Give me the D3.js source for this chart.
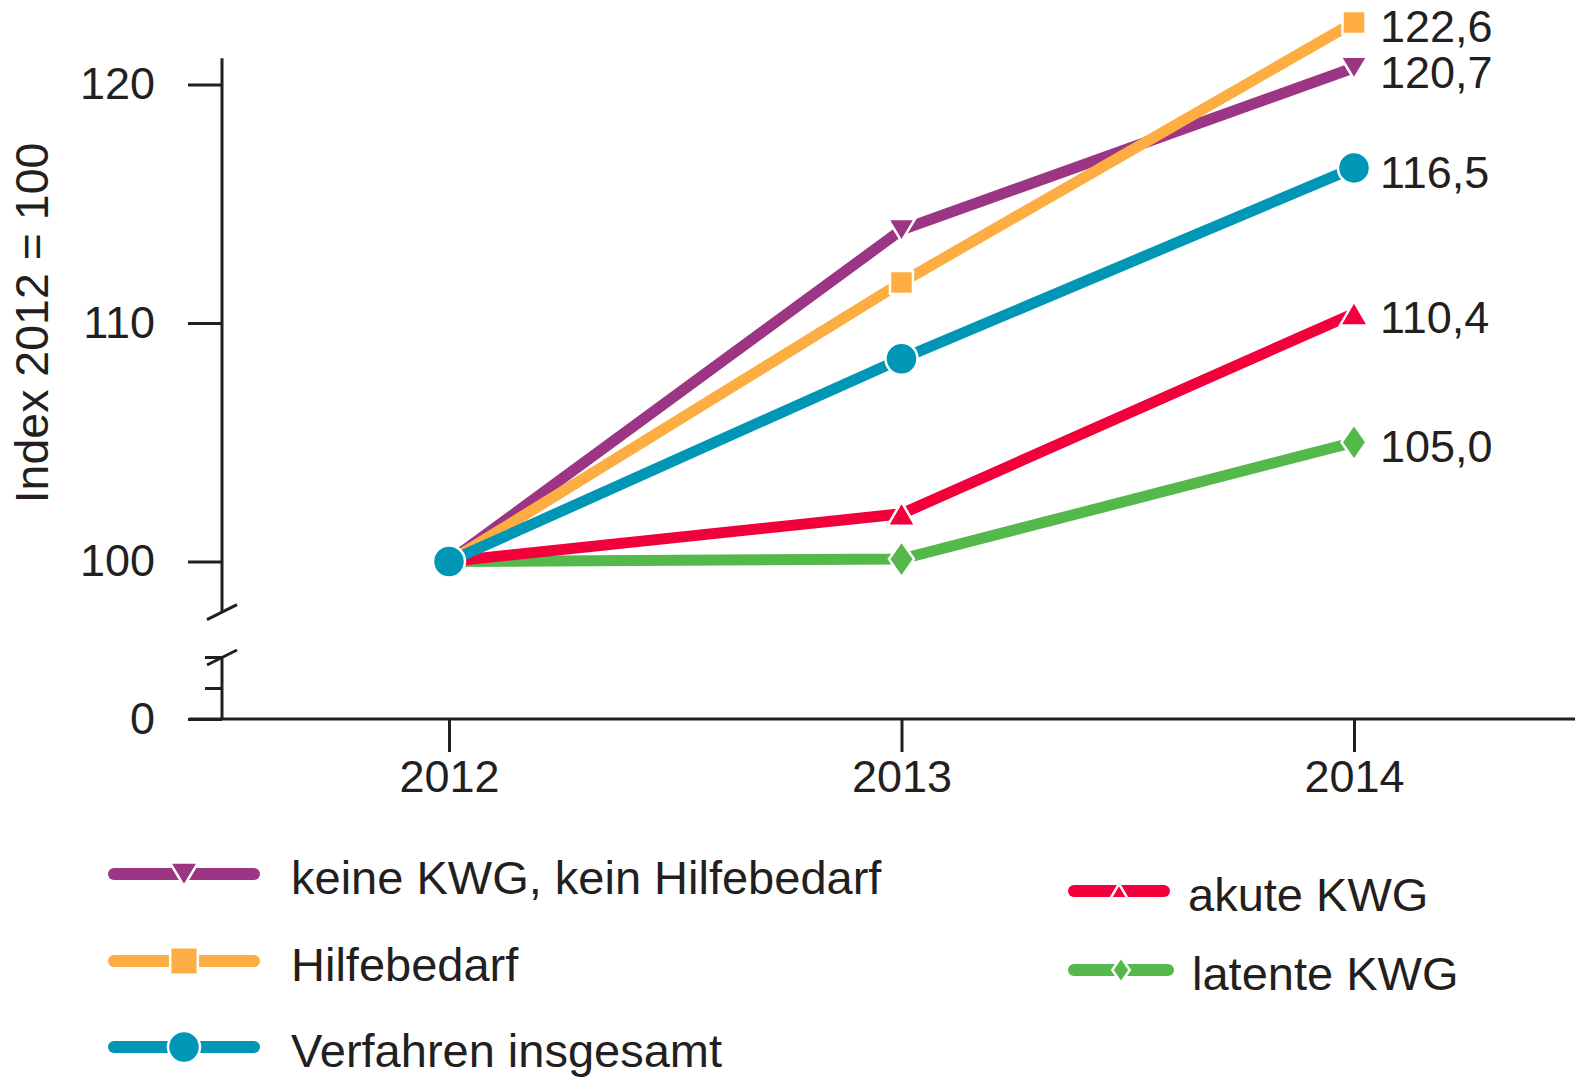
<!DOCTYPE html>
<html>
<head>
<meta charset="utf-8">
<script src="https://cdn.jsdelivr.net/npm/d3@7"></script>
<style>
  body { margin: 0; background: #fff; }
  svg { display: block; font-family: "Liberation Sans", Arial, sans-serif; }
</style>
</head>
<body>
<svg id="chart"></svg>
<script>
// data
const years = [2012, 2013, 2014];
const seriesNames = ["keine KWG, kein Hilfebedarf", "Hilfebedarf", "Verfahren insgesamt", "akute KWG", "latente KWG"];
const keineKWG = [100, 113.9, 120.7];
const hilfebedarf = [100, 111.7, 122.6];
const insgesamt = [100, 108.5, 116.5];
const akuteKWG = [100, 102.0, 110.4];
const latenteKWG = [100, 100.1, 105.0];
const endLabels = ["120,7", "122,6", "116,5", "110,4", "105,0"];
const yTicks = [100, 110, 120];
const yLowTicks = [0, 10, 20];

const width = 1575, height = 1081;
const ink = "#231f20";

const svg = d3.select("#chart").attr("width", width).attr("height", height);

// scales (upper part of broken axis, lower part near 0)
const xScale = d3.scaleLinear().domain([2012, 2014]).range([449, 1354]);
const yScale = d3.scaleLinear().domain([100, 120]).range([561.5, 84.4]);
const yLow = d3.scaleLinear().domain([0, 20]).range([719, 657]);

const series = [
    {name: seriesNames[0], values: keineKWG, color: "#9c3584", shape: "tridown", label: endLabels[0]},
    {name: seriesNames[1], values: hilfebedarf, color: "#fdad42", shape: "square", label: endLabels[1]},
    {name: seriesNames[2], values: insgesamt, color: "#0096b6", shape: "circle", label: endLabels[2]},
    {name: seriesNames[3], values: akuteKWG, color: "#f2003b", shape: "triup", label: endLabels[3]},
    {name: seriesNames[4], values: latenteKWG, color: "#55b84a", shape: "diamond", label: endLabels[4]}
];

// marker shapes, s = scale
function shapePath(shape, s) {
    switch (shape) {
        case "tridown": return `M${-13.5*s},${-11*s}L${13.5*s},${-11*s}L0,${11.5*s}Z`;
        case "triup": return `M${-14*s},${12*s}L${14*s},${12*s}L0,${-12*s}Z`;
        case "square": return `M${-11.5*s},${-11.5*s}h${23*s}v${23*s}h${-23*s}Z`;
        case "diamond": return `M0,${-18*s}L${12.5*s},0L0,${18*s}L${-12.5*s},0Z`;
        case "circle": {
            const r = 16 * s;
            return `M${r},0A${r},${r} 0 1,1 ${-r},0A${r},${r} 0 1,1 ${r},0Z`;
        }
    }
}

// Y axis upper
const axisY = d3.axisLeft(yScale).tickValues(yTicks).tickSize(34).tickPadding(33).tickFormat(d3.format("d"));
const gy = svg.append("g").attr("transform", "translate(222,0)").call(axisY);
gy.select(".domain").remove();
gy.selectAll(".tick line").attr("stroke", ink).attr("stroke-width", 3);
gy.selectAll(".tick text").attr("fill", ink).attr("font-size", "45px").attr("font-family", "Liberation Sans, Arial, sans-serif");
svg.append("line")
    .attr("x1", 222).attr("x2", 222)
    .attr("y1", yScale(121.1)).attr("y2", yScale(97.9))
    .attr("stroke", ink).attr("stroke-width", 3);

// Y axis lower
const axisYLow = d3.axisLeft(yLow).tickValues(yLowTicks)
    .tickSize(17).tickPadding(50).tickFormat(d => d === 0 ? "0" : "");
const gyl = svg.append("g").attr("transform", "translate(222,0)").call(axisYLow);
gyl.select(".domain").remove();
gyl.selectAll(".tick line").attr("stroke", ink).attr("stroke-width", 3)
    .attr("x2", d => d === 0 ? -34 : -17);
gyl.selectAll(".tick text").attr("fill", ink).attr("font-size", "45px").attr("x", -67)
    .attr("font-family", "Liberation Sans, Arial, sans-serif");
svg.append("line")
    .attr("x1", 222).attr("x2", 222)
    .attr("y1", yLow(20)).attr("y2", yLow(0))
    .attr("stroke", ink).attr("stroke-width", 3);

// break marks
[yScale(97.9), yLow(20)].forEach(y => {
    svg.append("line")
        .attr("x1", 207).attr("y1", y + 8)
        .attr("x2", 237).attr("y2", y - 7)
        .attr("stroke", ink).attr("stroke-width", 3);
});

// X axis
const axisX = d3.axisBottom(xScale).tickValues(years).tickSize(33).tickPadding(8).tickFormat(d3.format("d"));
const gx = svg.append("g").attr("transform", `translate(0,${yLow(0)})`).call(axisX);
gx.select(".domain").remove();
gx.selectAll(".tick line").attr("stroke", ink).attr("stroke-width", 3);
gx.selectAll(".tick text").attr("fill", ink).attr("font-size", "45px")
    .attr("font-family", "Liberation Sans, Arial, sans-serif");
svg.append("line")
    .attr("x1", 189).attr("x2", width)
    .attr("y1", yLow(0)).attr("y2", yLow(0))
    .attr("stroke", ink).attr("stroke-width", 3);

// Y label
svg.append("text")
    .attr("transform", `translate(48, 323) rotate(-90)`)
    .attr("text-anchor", "middle")
    .attr("fill", ink)
    .attr("font-size", "46.5px")
    .text("Index 2012 = 100");

// lines, drawn bottom to top
const line = d3.line()
    .x((d, i) => xScale(years[i]))
    .y(d => yScale(d));

const drawOrder = [4, 3, 0, 1, 2];
drawOrder.forEach(k => {
    const s = series[k];
    svg.append("path")
        .datum(s.values)
        .attr("fill", "none")
        .attr("stroke", s.color)
        .attr("stroke-width", 11)
        .attr("d", line);
    svg.selectAll(null)
        .data(s.values)
        .enter()
        .append("path")
        .attr("transform", (d, i) => `translate(${xScale(years[i])},${yScale(d)})`)
        .attr("d", shapePath(s.shape, 1))
        .attr("fill", s.color)
        .attr("stroke", "#fff")
        .attr("stroke-width", 2.5);
});

// end value labels
series.forEach(s => {
    const v = s.values[s.values.length - 1];
    svg.append("text")
        .attr("x", xScale(2014) + 26)
        .attr("y", yScale(v) + 20)
        .attr("fill", ink)
        .attr("font-size", "45px")
        .text(s.label);
});

// legend
const legendPos = [
    {x1: 108, x2: 260, y: 874, tx: 291, ms: 1.05},
    {x1: 108, x2: 260, y: 961, tx: 291, ms: 1.2},
    {x1: 108, x2: 260, y: 1047, tx: 291, ms: 1.0},
    {x1: 1068, x2: 1170, y: 891, tx: 1188, ms: 0.6},
    {x1: 1068, x2: 1174, y: 970, tx: 1192, ms: 0.7}
];
series.forEach((s, i) => {
    const p = legendPos[i];
    const g = svg.append("g");
    g.append("line")
        .attr("x1", p.x1 + 6).attr("x2", p.x2 - 6)
        .attr("y1", p.y).attr("y2", p.y)
        .attr("stroke", s.color)
        .attr("stroke-width", 12)
        .attr("stroke-linecap", "round");
    g.append("path")
        .attr("transform", `translate(${(p.x1 + p.x2) / 2},${p.y})`)
        .attr("d", shapePath(s.shape, p.ms))
        .attr("fill", s.color)
        .attr("stroke", "#fff")
        .attr("stroke-width", 2.5);
    g.append("text")
        .attr("x", p.tx)
        .attr("y", p.y + 20)
        .attr("fill", ink)
        .attr("font-size", "47px")
        .text(s.name);
});
</script>
</body>
</html>
